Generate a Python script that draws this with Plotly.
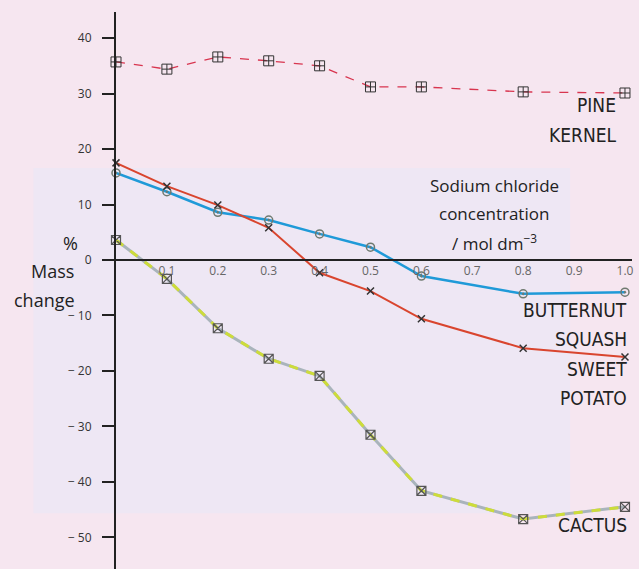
import plotly.graph_objects as go

conc = [0.0, 0.1, 0.2, 0.3, 0.4, 0.5, 0.6, 0.8, 1.0]
pine_kernel = [35.7, 34.4, 36.6, 35.9, 35.0, 31.2, 31.2, 30.3, 30.1]
butternut_squash = [15.7, 12.3, 8.6, 7.2, 4.7, 2.3, -2.9, -6.1, -5.8]
sweet_potato = [17.5, 13.3, 9.9, 5.8, -2.3, -5.6, -10.6, -15.9, -17.5]
cactus = [3.6, -3.4, -12.3, -17.8, -20.9, -31.5, -41.6, -46.7, -44.5]

x_ticks = [0.1, 0.2, 0.3, 0.4, 0.5, 0.6, 0.7, 0.8, 0.9, 1.0]
x_tick_text = ["0.1", "0.2", "0.3", "0.4", "0.5", "0.6", "0.7", "0.8", "0.9", "1.0"]
y_ticks = [40, 30, 20, 10, 0, -10, -20, -30, -40, -50]
y_tick_text = ["40", "30", "20", "10", "0", "− 10", "− 20", "− 30", "− 40", "− 50"]

fig = go.Figure()

# Cactus: grey base with yellow-green dashes
fig.add_trace(go.Scatter(x=conc, y=cactus, mode="lines",
                         line=dict(color="#a9b4bb", width=3),
                         hoverinfo="skip", showlegend=False, cliponaxis=False))
fig.add_trace(go.Scatter(x=conc, y=cactus, mode="lines+markers",
                         line=dict(color="#cddc3a", width=3, dash="dash"),
                         marker=dict(symbol="square-x-open", size=9,
                                     color="#555555", line=dict(width=1.2)),
                         showlegend=False, cliponaxis=False))

fig.add_trace(go.Scatter(x=conc, y=pine_kernel, mode="lines+markers",
                         line=dict(color="#d8354f", width=1.3, dash="dash"),
                         marker=dict(symbol="square-cross-open", size=10,
                                     color="#333333", line=dict(width=1)),
                         showlegend=False, cliponaxis=False))

fig.add_trace(go.Scatter(x=conc, y=butternut_squash, mode="lines+markers",
                         line=dict(color="#1f9ad8", width=2.5),
                         marker=dict(symbol="circle-open-dot", size=8,
                                     color="#6f7a70", line=dict(width=1.5)),
                         showlegend=False, cliponaxis=False))

fig.add_trace(go.Scatter(x=conc, y=sweet_potato, mode="lines+markers",
                         line=dict(color="#d9452e", width=2),
                         marker=dict(symbol="x-thin-open", size=7,
                                     color="#333333", line=dict(width=1.5)),
                         showlegend=False, cliponaxis=False))

label_font = dict(family="DejaVu Sans Condensed", size=19, color="#222222")
title_font = dict(family="Open Sans", size=17, color="#222222")
side_font = dict(family="Open Sans", size=18, color="#222222")

annotations = []
def add_label(text, x, y, font, xanchor="right", ref="data"):
    xr, yr = ("x", "y") if ref == "data" else ("paper", "paper")
    annotations.append(dict(text=text, x=x, y=y, xref=xr, yref=yr,
                            showarrow=False, xanchor=xanchor, yanchor="middle",
                            font=font))

add_label("PINE", 0.986, 27.9, label_font)
add_label("KERNEL", 0.986, 22.5, label_font)
add_label("BUTTERNUT", 1.008, -9.0, label_font)
add_label("SQUASH", 1.008, -14.2, label_font)
add_label("SWEET", 1.008, -19.6, label_font)
add_label("POTATO", 1.008, -24.9, label_font)
add_label("CACTUS", 1.008, -47.7, label_font)
add_label("Sodium chloride", 0.743, 13.5, title_font, "center")
add_label("concentration", 0.743, 8.4, title_font, "center")
add_label("/ mol dm<sup>−3</sup>", 0.743, 3.2, title_font, "center")
add_label("%", -0.089, 0.585, side_font, "center", ref="paper")
add_label("Mass", -0.124, 0.535, side_font, "center", ref="paper")
add_label("change", -0.1395, 0.483, side_font, "center", ref="paper")

fig.update_layout(
    width=639, height=569,
    margin=dict(l=116, r=7, t=12, b=0),
    paper_bgcolor="#f6e6f0",
    plot_bgcolor="rgba(0,0,0,0)",
    annotations=annotations,
    shapes=[
        dict(type="rect", xref="paper", yref="paper", layer="below",
             x0=-0.16, x1=0.88, y0=0.10, y1=0.72,
             fillcolor="#eee7f4", line=dict(width=0)),
        dict(type="line", xref="paper", yref="y",
             x0=-0.022, x1=0.0, y0=0, y1=0,
             line=dict(color="#222222", width=2)),
    ],
    xaxis=dict(range=[0, 1.0138], tickvals=x_ticks, ticktext=x_tick_text,
               showgrid=False, zeroline=False, showline=True,
               linecolor="#222222", linewidth=2,
               anchor="free", position=0.5548, ticks="",
               tickfont=dict(family="Open Sans", size=12, color="#666666")),
    yaxis=dict(range=[-55.7, 44.7], tickvals=y_ticks, ticktext=y_tick_text,
               showgrid=False, zeroline=False, showline=True,
               linecolor="#222222", linewidth=2,
               ticks="outside", ticklen=12, tickwidth=2, tickcolor="#222222",
               ticklabelstandoff=8,
               tickfont=dict(family="Open Sans", size=12, color="#333333")),
)

fig.write_html("out.html", config={"displayModeBar": False},
               post_script="document.body.style.margin='0';document.body.style.overflow='hidden';")
